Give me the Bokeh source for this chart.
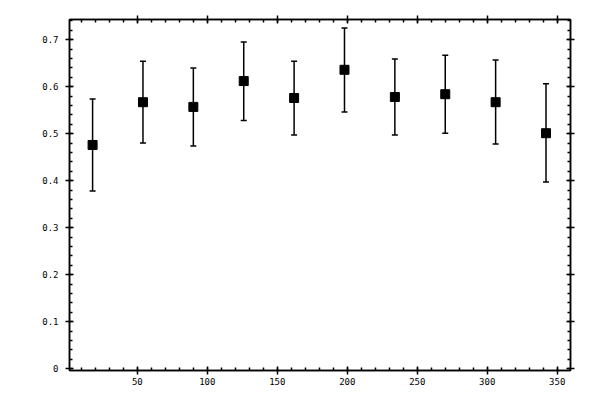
from bokeh.plotting import figure
from bokeh.models import (Range1d, LinearAxis, FixedTicker, Whisker, TeeHead,
                          ColumnDataSource, CustomJSTickFormatter)
from bokeh.embed import file_html
from bokeh.resources import INLINE

# ---- data ----
x_centers = [18, 54, 90, 126, 162, 198, 234, 270, 306, 342]
y_values = [0.476, 0.567, 0.557, 0.612, 0.576, 0.636, 0.578, 0.584, 0.567, 0.501]
y_lower = [0.378, 0.480, 0.474, 0.528, 0.497, 0.546, 0.497, 0.501, 0.478, 0.397]
y_upper = [0.574, 0.654, 0.640, 0.695, 0.654, 0.725, 0.659, 0.667, 0.657, 0.606]

x_ticks = [50, 100, 150, 200, 250, 300, 350]
x_tick_labels = ["50", "100", "150", "200", "250", "300", "350"]
y_ticks = [0, 0.1, 0.2, 0.3, 0.4, 0.5, 0.6, 0.7]
y_tick_labels = ["0", "0.1", "0.2", "0.3", "0.4", "0.5", "0.6", "0.7"]
x_minor = [v for v in range(10, 360, 10)]
y_minor = [round(i * 0.02, 2) for i in range(0, 38)]

src = ColumnDataSource(dict(x=x_centers, y=y_values, lo=y_lower, hi=y_upper))

p = figure(frame_width=501, frame_height=351,
           x_range=Range1d(1.5, 359.5), y_range=Range1d(-0.004, 0.743),
           output_backend="svg", toolbar_location=None,
           x_axis_location=None, y_axis_location=None,
           min_border_left=69, min_border_top=19,
           min_border_right=14, min_border_bottom=14)
p.xgrid.visible = False
p.ygrid.visible = False
p.outline_line_color = "black"
p.outline_line_width = 1.5
p.background_fill_color = "white"
p.border_fill_color = "white"

FONT = "DejaVu Sans Mono"


def style(ax, labels=True, standoff=5):
    ax.axis_line_width = 1.5
    ax.axis_line_color = "black"
    ax.major_tick_line_width = 1.5
    ax.minor_tick_line_width = 1.5
    ax.major_tick_line_color = "black"
    ax.minor_tick_line_color = "black"
    ax.major_tick_in = 4
    ax.major_tick_out = 4
    ax.minor_tick_in = 3
    ax.minor_tick_out = 0
    ax.major_label_text_font = FONT
    ax.major_label_text_font_size = "9px"
    ax.major_label_text_color = "black"
    ax.major_label_standoff = standoff
    if not labels:
        ax.formatter = CustomJSTickFormatter(code="return ''")
        ax.major_label_standoff = 0


xt = FixedTicker(ticks=x_ticks, minor_ticks=x_minor)
yt = FixedTicker(ticks=y_ticks, minor_ticks=y_minor)

bottom = LinearAxis(ticker=xt)
bottom.major_label_overrides = {t: l for t, l in zip(x_ticks, x_tick_labels)}
style(bottom, standoff=3)
p.add_layout(bottom, "below")

left = LinearAxis(ticker=yt)
left.major_label_overrides = {t: l for t, l in zip(y_ticks, y_tick_labels)}
style(left, standoff=7)
p.add_layout(left, "left")

top = LinearAxis(ticker=FixedTicker(ticks=x_ticks, minor_ticks=x_minor))
style(top, labels=False)
p.add_layout(top, "above")

right = LinearAxis(ticker=FixedTicker(ticks=y_ticks, minor_ticks=y_minor))
style(right, labels=False)
p.add_layout(right, "right")

w = Whisker(source=src, base="x", lower="lo", upper="hi",
            line_color="black", line_width=1.5,
            lower_head=TeeHead(size=6, line_width=1.5, line_color="black"),
            upper_head=TeeHead(size=6, line_width=1.5, line_color="black"))
p.add_layout(w)

p.scatter("x", "y", source=src, marker="square", size=9,
          fill_color="black", line_color="black")

open("out.html", "w").write(file_html(p, INLINE))
